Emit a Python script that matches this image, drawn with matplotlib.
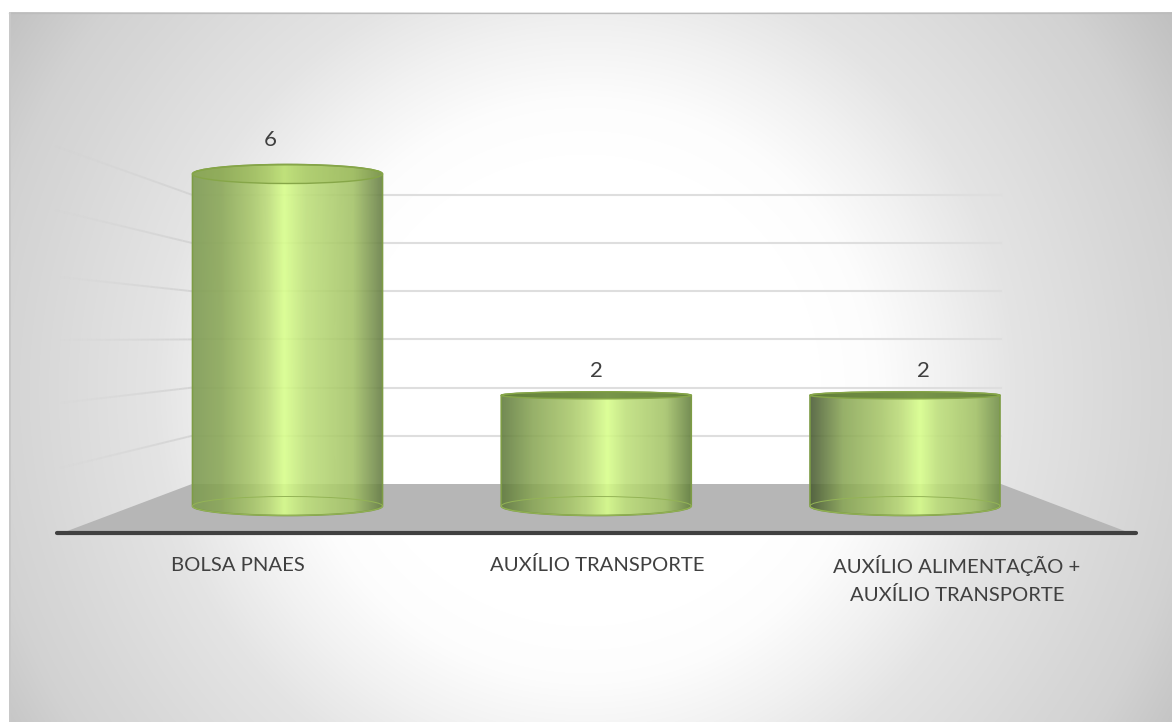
"""Cylinder column chart on a radial grey backdrop, drawn in matplotlib."""

import matplotlib.pyplot as plt
import numpy as np
from matplotlib.collections import LineCollection
from matplotlib.colors import LinearSegmentedColormap
from matplotlib.patches import Ellipse, PathPatch, Polygon, Rectangle
from matplotlib.path import Path

W, H = 1172, 722

categories = ["BOLSA PNAES", "AUXÍLIO TRANSPORTE", "AUXÍLIO ALIMENTAÇÃO +\nAUXÍLIO TRANSPORTE"]
values     = [6, 2, 2]
wall_ticks = [0, 1, 2, 3, 4, 5, 6]

# per-cylinder shading: left edge, right edge, highlight position, cap colour, cap alpha
shades = [
    ("#7c9a50", "#647b42", 0.48, "#8fae4a", 0.35),
    ("#5f7a3c", "#64803e", 0.56, "#5f7c36", 0.8),
    ("#475932", "#728f48", 0.58, "#5f7c36", 0.8),
]
cap_px = [9.5, 3.5, 3.5]      # half height of the top ellipse
label_dx = [-17.5, 0, 18]     # value labels drift outwards with the perspective
label_dy = [34, 24, 24]       # value label above cylinder top
tick_x = [238, 597, 957]      # category labels do not sit under the bars

plt.rcParams["font.family"] = ["Lato", "DejaVu Sans"]

fig = plt.figure(figsize=(W / 100, H / 100), dpi=100, facecolor="white")

# --- backdrop, floor and walls in pixel coordinates ---
bg = fig.add_axes([0, 0, 1, 1])
bg.set_xlim(0, W)
bg.set_ylim(H, 0)
bg.axis("off")

yy, xx = np.mgrid[12:H, 9:W]
r = np.hypot(xx - 585, yy - 390)
t = np.interp(r, [230, 290, 360, 430, 610, 700], [0, 0.04, 0.22, 0.43, 0.72, 1.0])
bg_cmap = LinearSegmentedColormap.from_list("bg", ["#ffffff", "#c0c0c0"])
bg.imshow(t, cmap=bg_cmap, vmin=0, vmax=1, extent=[9, W, H, 12], aspect="auto", zorder=0)
bg.set_xlim(0, W)
bg.set_ylim(H, 0)
bg.plot([9, W], [12.5, 12.5], color="#bcbcbc", lw=0.9, zorder=1)
bg.add_patch(Rectangle((9, 12), 2, H - 12, color="#c8c8c8", lw=0, zorder=1))

bg.add_patch(Polygon([(192, 484), (1001, 484), (1130, 533), (62, 533)],
                     closed=True, color="#b6b6b6", lw=0, zorder=2))

wall_y = [484 - 48.2 * v for v in wall_ticks]
for y in wall_y[1:]:
    bg.plot([192, 1001], [y, y], color="#dedede", lw=1.5, zorder=1.5)

# side wall lines fade out towards the left
side_ends = [(60, 468), (60, 403), (60, 340), (60, 277), (55, 210), (55, 146)]
for (x0, y0), y1 in zip(side_ends, wall_y[1:]):
    ts = np.linspace(0, 1, 30)
    xs, ys = x0 + (192 - x0) * ts, y0 + (y1 - y0) * ts
    segs = np.stack([np.c_[xs[:-1], ys[:-1]], np.c_[xs[1:], ys[1:]]], axis=1)
    rgba = [(0.82, 0.82, 0.82, 0.85 * a) for a in ts[1:]]
    bg.add_collection(LineCollection(segs, colors=rgba, linewidths=1.4, zorder=1.5))

bg.plot([57, 1136], [533, 533], color="#404040", lw=3, solid_capstyle="round", zorder=3)

for x, label in zip(tick_x, categories):
    # baseline of a multi-line text is that of its last line
    y = 571 + 30 * label.count("\n")
    bg.text(x, y, label, ha="center", va="baseline", fontsize=14.6, color="#404040",
            linespacing=1.68, zorder=4)

# --- cylinders in data coordinates ---
ax = fig.add_axes([0, 0, 1, 1], facecolor="none")
x_px, y_px = 308.75, 55.33     # pixels per data unit
ax.set_xlim(-287.5 / x_px, (W - 287.5) / x_px)
ax.set_ylim(-216 / y_px, (H - 216) / y_px)
ax.axis("off")

bar_w = 190 / x_px
base_h = 9.5 / y_px
k = 0.5523

for i, (v, (c0, c2, pos, cap_col, cap_a), cap) in enumerate(zip(values, shades, cap_px)):
    hw = bar_w / 2
    cap_h = cap / y_px
    verts = [(i - hw, v), (i - hw, 0),
             (i - hw, -k * base_h), (i - k * hw, -base_h), (i, -base_h),
             (i + k * hw, -base_h), (i + hw, -k * base_h), (i + hw, 0),
             (i + hw, v),
             (i + hw, v + k * cap_h), (i + k * hw, v + cap_h), (i, v + cap_h),
             (i - k * hw, v + cap_h), (i - hw, v + k * cap_h), (i - hw, v),
             (i - hw, v)]
    codes = [Path.MOVETO, Path.LINETO] + [Path.CURVE4] * 6 + [Path.LINETO] + [Path.CURVE4] * 6 + [Path.CLOSEPOLY]
    body = PathPatch(Path(verts, codes), facecolor="none", edgecolor="#7d9c45", lw=1.2, zorder=5)
    ax.add_patch(body)

    cmap = LinearSegmentedColormap.from_list(
        "cyl", [(0, c0), (pos * 0.3, "#89a655"), (pos * 0.65, "#a8c769"), (pos * 0.82, "#bcdc78"),
                (pos, "#d8ff8a"), (pos + (1 - pos) * 0.22, "#bee07a"),
                (pos + (1 - pos) * 0.7, "#a3c266"), (1, c2)])
    grad = np.linspace(0, 1, 256).reshape(1, -1)
    im = ax.imshow(grad, cmap=cmap, extent=[i - hw, i + hw, -base_h, v + cap_h],
                   aspect="auto", alpha=0.88, zorder=4)
    im.set_clip_path(body)

    # top cap and the far side of the base seen through the glass
    ax.add_patch(Ellipse((i, v), bar_w, 2 * cap_h, facecolor=cap_col, alpha=cap_a,
                         edgecolor="none", zorder=5))
    ax.add_patch(Ellipse((i, v), bar_w, 2 * cap_h, facecolor="none",
                         edgecolor="#86a648", lw=1.0, zorder=5))
    ax.add_patch(Ellipse((i, 0), bar_w, 2 * base_h, facecolor="none",
                         edgecolor="#94b456", lw=0.7, zorder=5))

    ax.annotate(str(v), (i, v), xytext=(label_dx[i] * 0.72, label_dy[i] * 0.72),
                textcoords="offset points", ha="center", va="center",
                fontsize=16, color="#404040")

ax.set_xlim(-287.5 / x_px, (W - 287.5) / x_px)
ax.set_ylim(-216 / y_px, (H - 216) / y_px)

fig.savefig("out.png", dpi=100)
